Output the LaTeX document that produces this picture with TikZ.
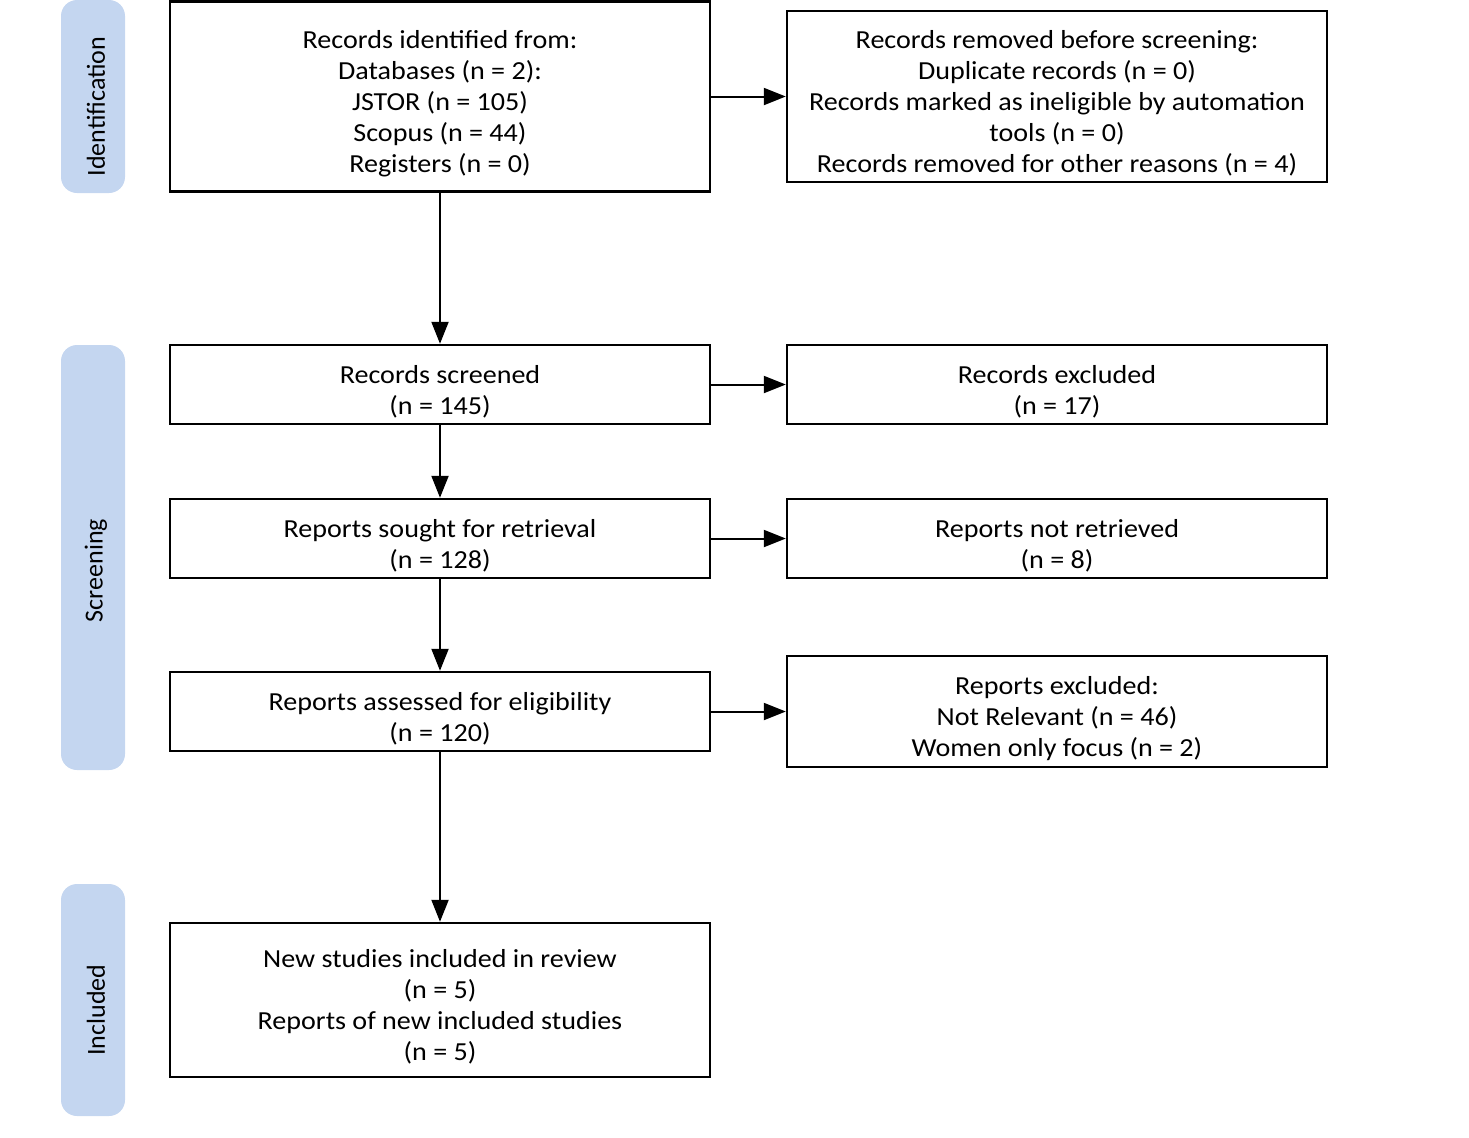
\documentclass[tikz,border=0pt]{standalone}
\usepackage{fontspec}
\setmainfont[FakeStretch=1.08]{Carlito}
\newfontfamily\stagefont{Carlito}
\usetikzlibrary{arrows.meta}
\definecolor{stageblue}{RGB}{196,214,240}
\begin{document}
\begin{tikzpicture}[
    x=0.5pt, y=-0.5pt,
    flowbox/.style={rectangle, draw, line width=1.2pt, minimum width=270pt, inner sep=0pt},
    flowtext/.style={align=center, font=\fontsize{13}{15.5}\selectfont, inner sep=0pt, yshift=-3.5pt},
    stagebar/.style={rectangle, rounded corners=8pt, fill=stageblue, minimum width=32pt, inner sep=0pt},
    stagelabel/.style={rotate=90, font=\stagefont\fontsize{13}{15.5}\selectfont},
    flowarrow/.style={-{Triangle[length=11pt, width=8.5pt]}, line width=1pt}
]
\useasboundingbox (0,0) rectangle (1469,1137);

% === STAGE BARS (left) ===
\node[stagebar, minimum height=96.5pt] (idbar) at (93, 96.5) {};
\node[stagelabel] (idlabel) at ([shift={(3,10)}]idbar.center) {Identification};
\node[stagebar, minimum height=212.5pt] (scbar) at (93, 557.5) {};
\node[stagelabel] (sclabel) at ([shift={(3,13)}]scbar.center) {Screening};
\node[stagebar, minimum height=116pt] (inbar) at (93, 1000) {};
\node[stagelabel] (inlabel) at ([shift={(3,10)}]inbar.center) {Included};

% === MAIN COLUMN ===
\node[flowbox, minimum height=95pt, label={[flowtext]center:Records identified from:\\Databases (n = 2):\\JSTOR (n = 105)\\Scopus (n = 44)\\Registers (n = 0)}] (ident) at (440, 96.5) {};
\node[flowbox, minimum height=39.5pt, label={[flowtext]center:Records screened\\(n = 145)}] (screened) at (440, 384.5) {};
\node[flowbox, minimum height=39.5pt, label={[flowtext]center:Reports sought for retrieval\\(n = 128)}] (sought) at (440, 538.5) {};
\node[flowbox, minimum height=39.5pt, label={[flowtext]center:Reports assessed for eligibility\\(n = 120)}] (assessed) at (440, 711.5) {};
\node[flowbox, minimum height=77pt, label={[flowtext]center:New studies included in review\\(n = 5)\\Reports of new included studies\\(n = 5)}] (included) at (440, 1000) {};

% === SIDE COLUMN ===
\node[flowbox, minimum height=85.5pt, label={[flowtext]center:Records removed before screening:\\Duplicate records (n = 0)\\Records marked as ineligible by automation\\tools (n = 0)\\Records removed for other reasons (n = 4)}] (removed) at (1057, 96.5) {};
\node[flowbox, minimum height=39.5pt, label={[flowtext]center:Records excluded\\(n = 17)}] (excluded) at (1057, 384.5) {};
\node[flowbox, minimum height=39.5pt, label={[flowtext]center:Reports not retrieved\\(n = 8)}] (notretr) at (1057, 538.5) {};
\node[flowbox, minimum height=55.5pt, label={[flowtext]center:Reports excluded:\\Not Relevant (n = 46)\\Women only focus (n = 2)}] (repexcl) at (1057, 711.5) {};

% Arrows
\draw[flowarrow] (ident) -- (screened);
\draw[flowarrow] (screened) -- (sought);
\draw[flowarrow] (sought) -- (assessed);
\draw[flowarrow] (assessed) -- (included);
\draw[flowarrow] (ident) -- (removed);
\draw[flowarrow] (screened) -- (excluded);
\draw[flowarrow] (sought) -- (notretr);
\draw[flowarrow] (assessed) -- (repexcl);

\end{tikzpicture}
\end{document}
